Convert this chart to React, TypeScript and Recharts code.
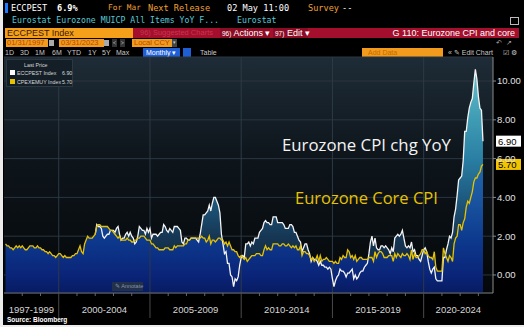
import React from "react";
import { ComposedChart, Area, Line, XAxis, YAxis, CartesianGrid, ReferenceLine } from "recharts";

// monthly, end of month, starting Jan 1997
const FIRST_YEAR = 1997;

// CPEXEMUY Index (core, YoY %), Jan 1997 - Mar 2023
const core = [
  1.6, 1.5, 1.5, 1.4, 1.4, 1.3, 1.4, 1.5, 1.4, 1.5, 1.4, 1.5, // 1997
  1.4, 1.3, 1.3, 1.4, 1.5, 1.5, 1.5, 1.4, 1.4, 1.5, 1.4, 1.4, // 1998
  1.3, 1.3, 1.2, 1.2, 1.1, 1.2, 1.1, 1.0, 1.0, 0.9, 1.0, 1.1, // 1999
  1.1, 1.0, 0.9, 1.0, 0.9, 0.9, 0.9, 0.9, 1.0, 1.0, 1.1, 1.1, // 2000
  1.3, 1.5, 1.2, 1.1, 1.6, 1.8, 2.0, 1.9, 1.9, 1.9, 2.0, 2.1, // 2001
  2.5, 2.6, 2.6, 2.5, 2.5, 2.5, 2.5, 2.5, 2.4, 2.3, 2.3, 2.2, // 2002
  2.1, 2.0, 1.9, 2.0, 1.8, 1.8, 1.8, 1.8, 1.9, 1.8, 1.8, 1.7, // 2003
  1.7, 1.8, 1.8, 1.9, 1.9, 2.0, 2.0, 2.0, 1.9, 1.8, 1.8, 1.8, // 2004
  1.6, 1.6, 1.5, 1.4, 1.4, 1.3, 1.3, 1.3, 1.3, 1.4, 1.4, 1.4, // 2005
  1.3, 1.3, 1.3, 1.5, 1.4, 1.5, 1.5, 1.5, 1.5, 1.5, 1.6, 1.6, // 2006
  1.8, 1.8, 1.9, 1.9, 1.9, 1.9, 1.9, 1.9, 1.9, 2.0, 1.9, 1.9, // 2007
  1.7, 1.8, 2.0, 1.6, 1.8, 1.8, 1.7, 1.8, 1.9, 1.9, 1.8, 1.8, // 2008
  1.6, 1.7, 1.5, 1.7, 1.5, 1.3, 1.3, 1.2, 1.2, 1.0, 0.9, 1.0, // 2009
  0.9, 0.8, 0.9, 0.7, 0.8, 0.9, 1.0, 1.0, 1.0, 1.1, 1.1, 1.1, // 2010
  1.0, 1.0, 1.3, 1.5, 1.3, 1.4, 1.3, 1.3, 1.6, 1.6, 1.6, 1.6, // 2011
  1.5, 1.5, 1.6, 1.6, 1.5, 1.5, 1.6, 1.5, 1.4, 1.5, 1.4, 1.5, // 2012
  1.3, 1.3, 1.5, 1.0, 1.2, 1.2, 1.1, 1.1, 1.0, 0.8, 0.9, 0.7, // 2013
  0.8, 1.0, 0.7, 1.0, 0.7, 0.8, 0.8, 0.9, 0.8, 0.7, 0.7, 0.7, // 2014
  0.6, 0.7, 0.6, 0.6, 0.9, 0.8, 1.0, 0.9, 0.9, 1.3, 1.2, 0.9, // 2015
  1.0, 0.8, 1.0, 0.7, 0.8, 0.9, 0.9, 0.8, 0.8, 0.8, 0.8, 0.9, // 2016
  0.9, 0.9, 0.7, 1.2, 0.9, 1.1, 1.2, 1.2, 1.1, 0.9, 0.9, 0.9, // 2017
  1.0, 1.0, 1.0, 0.7, 1.1, 0.9, 1.1, 1.0, 0.9, 1.1, 1.0, 1.0, // 2018
  1.1, 1.0, 0.8, 1.3, 0.8, 1.1, 0.9, 0.9, 1.0, 1.1, 1.3, 1.3, // 2019
  1.1, 1.2, 1.0, 0.9, 0.9, 0.8, 1.2, 0.4, 0.2, 0.2, 0.2, 0.2, // 2020
  1.4, 1.1, 0.9, 0.7, 1.0, 0.9, 0.7, 1.6, 1.9, 2.0, 2.6, 2.6, // 2021
  2.3, 2.7, 2.9, 3.5, 3.8, 3.7, 4.0, 4.3, 4.8, 5.0, 5.0, 5.2, // 2022
  5.3, 5.6, 5.7, // 2023
];

// ECCPEST Index (headline, YoY %), Dec 2001 - Mar 2023
const headlineStart = 59;
const headline = [
  2.1, // Dec 2001
  2.6, 2.5, 2.5, 2.4, 2.0, 1.9, 2.0, 2.1, 2.1, 2.3, 2.3, 2.3, // 2002
  2.2, 2.4, 2.5, 2.1, 1.8, 1.9, 1.9, 2.1, 2.2, 2.0, 2.2, 2.0, // 2003
  1.9, 1.6, 1.7, 2.0, 2.5, 2.4, 2.3, 2.3, 2.1, 2.4, 2.2, 2.4, // 2004
  1.9, 2.1, 2.1, 2.1, 2.0, 2.1, 2.2, 2.2, 2.6, 2.5, 2.3, 2.2, // 2005
  2.4, 2.3, 2.2, 2.5, 2.5, 2.5, 2.4, 2.3, 1.7, 1.6, 1.9, 1.9, // 2006
  1.8, 1.8, 1.9, 1.9, 1.9, 1.9, 1.8, 1.7, 2.1, 2.6, 3.1, 3.1, // 2007
  3.2, 3.3, 3.6, 3.3, 3.7, 4.0, 4.0, 3.8, 3.6, 3.2, 2.1, 1.6, // 2008
  1.1, 1.2, 0.6, 0.6, 0.0, -0.1, -0.6, -0.2, -0.3, -0.1, 0.5, 0.9, // 2009
  1.0, 0.9, 1.6, 1.6, 1.7, 1.5, 1.7, 1.6, 1.9, 1.9, 1.9, 2.2, // 2010
  2.3, 2.4, 2.7, 2.8, 2.7, 2.7, 2.6, 2.6, 3.0, 3.0, 3.0, 2.7, // 2011
  2.7, 2.7, 2.7, 2.6, 2.4, 2.4, 2.4, 2.6, 2.6, 2.5, 2.2, 2.2, // 2012
  2.0, 1.8, 1.7, 1.2, 1.4, 1.6, 1.6, 1.3, 1.1, 0.7, 0.9, 0.8, // 2013
  0.8, 0.7, 0.5, 0.7, 0.5, 0.5, 0.4, 0.4, 0.3, 0.4, 0.3, -0.2, // 2014
  -0.6, -0.3, -0.1, 0.0, 0.3, 0.2, 0.2, 0.1, -0.1, 0.1, 0.1, 0.2, // 2015
  0.3, -0.2, 0.0, -0.2, -0.1, 0.1, 0.2, 0.2, 0.4, 0.5, 0.6, 1.1, // 2016
  1.7, 2.0, 1.5, 1.9, 1.4, 1.3, 1.3, 1.5, 1.5, 1.4, 1.5, 1.4, // 2017
  1.3, 1.1, 1.4, 1.2, 1.9, 2.0, 2.1, 2.0, 2.1, 2.3, 1.9, 1.5, // 2018
  1.4, 1.5, 1.4, 1.7, 1.2, 1.3, 1.0, 1.0, 0.8, 0.7, 1.0, 1.3, // 2019
  1.4, 1.2, 0.7, 0.3, 0.1, 0.3, 0.4, -0.2, -0.3, -0.3, -0.3, -0.3, // 2020
  0.9, 0.9, 1.3, 1.6, 2.0, 1.9, 2.2, 3.0, 3.4, 4.1, 4.9, 5.0, // 2021
  5.1, 5.9, 7.4, 7.4, 8.1, 8.6, 8.9, 9.1, 9.9, 10.6, 10.1, 9.2, // 2022
  8.6, 8.5, 6.9, // 2023
];

const bandLabels = ["1997-1999", "2000-2004", "2005-2009", "2010-2014", "2015-2019", "2020-2024"];
const bandCenters = [1998.5, 2002.5, 2007.5, 2012.5, 2017.5, 2021.9];
const bandEdges = [2000, 2005, 2010, 2015, 2020];
const minorYears = [1998, 1999, 2001, 2002, 2003, 2004, 2006, 2007, 2008, 2009, 2011, 2012, 2013, 2014, 2016, 2017, 2018, 2019, 2021, 2022, 2023];
const yTicks = [0, 2, 4, 6, 8, 10];

const data = core.map((c, i) => ({
  t: FIRST_YEAR + (i + 1) / 12,
  core: c,
  headline: i >= headlineStart ? headline[i - headlineStart] : null,
}));

const lastHeadline = headline[headline.length - 1];
const lastCore = core[core.length - 1];

const X_DOMAIN: [number, number] = [1997, 2023.8];
const Y_MIN = -0.93;
const Y_MAX = 11.24;
const PLOT_TOP = 9;
const PLOT_H = 236;
const ySvg = (v: number) => PLOT_TOP + ((Y_MAX - v) / (Y_MAX - Y_MIN)) * PLOT_H;

const mono = '"DejaVu Sans Mono", monospace';
const sans = '"Liberation Sans", Arial, sans-serif';
const amber = "#f0a030";

const XTick = (props: any) => {
  const { x, y, payload } = props;
  const v = payload.value;
  if (bandEdges.includes(v)) {
    return <line x1={x} x2={x} y1={y} y2={y + 25} stroke="#4a4a4a" />;
  }
  const idx = bandCenters.indexOf(v);
  if (idx >= 0) {
    return (
      <text x={x} y={y + 20} textAnchor="middle" fill="#d6d6d6" fontSize={9.5} fontFamily={sans}>
        {bandLabels[idx]}
      </text>
    );
  }
  return <line x1={x} x2={x} y1={y} y2={y + 3} stroke="#666" />;
};

const tag = (value: number, bg: string) => (props: any) => {
  const vb = props.viewBox || {};
  const x = vb.x + vb.width + 3;
  const y = vb.y;
  return (
    <g>
      <rect x={x} y={y - 5.5} width={25} height={11} fill={bg} />
      <text x={x + 2} y={y + 3.5} fill="#000" fontSize={9.5} fontFamily={sans}>
        {value.toFixed(2)}
      </text>
    </g>
  );
};

const abs = (style: React.CSSProperties): React.CSSProperties => ({ position: "absolute", whiteSpace: "nowrap", ...style });
const row1 = (left: number, color: string, bold = false, size = 8.6): React.CSSProperties =>
  abs({ left, top: 2, fontFamily: mono, fontSize: size, lineHeight: "12px", color, fontWeight: bold ? "bold" : "normal" });

export default function App() {
  return (
    <div style={abs({ left: 0, top: 0, width: 524, height: 327, background: "#ececec", overflow: "hidden" })}>
      <div style={abs({ left: 3, top: 0, width: 521, height: 325, background: "#000" })} />

      {/* row 1 */}
      <div style={abs({ left: 5, top: 3, width: 3, height: 10, background: "#1e7bff" })} />
      <div style={row1(11, "#fff")}>ECCPEST</div>
      <div style={row1(57, "#fff", true)}>6.9%</div>
      <div style={row1(108, amber, false, 7.8)}>For Mar</div>
      <div style={row1(148, amber)}>Next Release</div>
      <div style={row1(227, "#fff")}>02 May 11:00</div>
      <div style={row1(308, amber)}>Survey</div>
      <div style={row1(342, "#fff")}>--</div>

      {/* row 2 */}
      <div style={abs({ left: 12, top: 15, fontFamily: mono, fontSize: 8.2, lineHeight: "11px", color: "#56c8d8" })}>
        Eurostat Eurozone MUICP All Items YoY F...
      </div>
      <div style={abs({ left: 237, top: 15, fontFamily: mono, fontSize: 8.2, lineHeight: "11px", color: "#56c8d8" })}>Eurostat</div>
      <div style={abs({ left: 510, top: 17, width: 7, height: 6, border: "1px solid #bbb" })} />

      {/* row 3 */}
      <div style={abs({ left: 5, top: 28, width: 128, height: 10, background: "#f5a01a" })} />
      <div style={abs({ left: 7, top: 28, fontFamily: sans, fontSize: 9, lineHeight: "10px", color: "#3a1800" })}>ECCPEST Index</div>
      <div style={abs({ left: 133, top: 28, width: 386, height: 10, background: "#a30f2c" })} />
      <div style={abs({ left: 140, top: 28, fontFamily: sans, fontSize: 7.5, lineHeight: "10px", color: "#c8384e" })}>96) Suggested Charts</div>
      <div style={abs({ left: 220, top: 28, width: 50, height: 10, background: "#8c0c25" })} />
      <div style={abs({ left: 222, top: 28, fontFamily: sans, fontSize: 9, lineHeight: "10px", color: "#fff" })}>
        <span style={{ fontSize: 6.5 }}>96)</span> Actions ▾
      </div>
      <div style={abs({ left: 273, top: 28, width: 35, height: 10, background: "#8c0c25" })} />
      <div style={abs({ left: 275, top: 28, fontFamily: sans, fontSize: 9, lineHeight: "10px", color: "#fff" })}>
        <span style={{ fontSize: 6.5 }}>97)</span> Edit ▾
      </div>
      <div style={abs({ right: 9, top: 28, fontFamily: sans, fontSize: 9, lineHeight: "10px", color: "#fff" })}>
        G 110: Eurozone CPI and core
      </div>

      {/* row 4 */}
      <div style={abs({ left: 6, top: 39, width: 41, height: 8, background: "#f29b1d", fontFamily: sans, fontSize: 7.5, lineHeight: "8px", color: "#b84800", paddingLeft: 1 })}>01/31/1997</div>
      <div style={abs({ left: 49, top: 40, width: 5, height: 6, background: "#aaa" })} />
      <div style={abs({ left: 59, top: 39, width: 43, height: 8, background: "#f29b1d", fontFamily: sans, fontSize: 7.5, lineHeight: "8px", color: "#b84800", paddingLeft: 2 })}>03/31/2023</div>
      <div style={abs({ left: 104, top: 40, width: 5, height: 6, background: "#aaa" })} />
      <div style={abs({ left: 112, top: 39, width: 5, height: 8, background: "#333", color: "#ccc", fontSize: 6, lineHeight: "8px", textAlign: "center" })}>&lt;</div>
      <div style={abs({ left: 120, top: 39, width: 5, height: 8, background: "#333", color: "#ccc", fontSize: 6, lineHeight: "8px", textAlign: "center" })}>&gt;</div>
      <div style={abs({ left: 132, top: 39, width: 38, height: 8, background: "#f29b1d", fontFamily: sans, fontSize: 7.5, lineHeight: "8px", color: "#b84800", paddingLeft: 2 })}>Local CCY</div>
      <div style={abs({ left: 172, top: 39, width: 5, height: 8, background: "#444", color: "#ccc", fontSize: 5, lineHeight: "8px", textAlign: "center" })}>▾</div>
      <div style={abs({ left: 496, top: 38, fontFamily: sans, fontSize: 7, lineHeight: "9px", color: "#aaa" })}>↶ &nbsp;↗</div>

      {/* row 5 */}
      {[["1D", 5], ["3D", 20], ["1M", 35], ["6M", 52], ["YTD", 67], ["1Y", 88], ["5Y", 102], ["Max", 116]].map(([s, x]) => (
        <div key={s as string} style={abs({ left: x as number, top: 48, fontFamily: sans, fontSize: 7, lineHeight: "9px", color: "#c8c8c8" })}>{s}</div>
      ))}
      <div style={abs({ left: 143, top: 48, width: 37, height: 9, background: "#1f5fd6", fontFamily: sans, fontSize: 7, lineHeight: "9px", color: "#fff", paddingLeft: 3, boxSizing: "border-box" })}>Monthly ▾</div>
      <div style={abs({ left: 183, top: 48, width: 8, height: 9, background: "#1f5fd6" })} />
      <div style={abs({ left: 200, top: 48, fontFamily: sans, fontSize: 7, lineHeight: "9px", color: "#c8c8c8" })}>Table</div>
      <div style={abs({ left: 362, top: 48, width: 81, height: 9, background: "#f29b1d", fontFamily: sans, fontSize: 7, lineHeight: "9px", color: "#c86a00", paddingLeft: 6, boxSizing: "border-box" })}>Add Data</div>
      <div style={abs({ left: 448, top: 48, fontFamily: sans, fontSize: 7, lineHeight: "9px", color: "#c8c8c8" })}>« ✎ Edit Chart</div>
      <div style={abs({ left: 503, top: 48, fontFamily: sans, fontSize: 7, lineHeight: "9px", color: "#c8c8c8" })}>☑ ⚙</div>

      <div style={abs({ left: 0, top: 48 })}>
        <ComposedChart width={524} height={276} data={data} margin={{ top: PLOT_TOP, right: 0, bottom: 0, left: 4 }}>
          <defs>
            <linearGradient id="plotBg" x1="0" y1="0" x2="0" y2="1">
              <stop offset="0" stopColor="#1e2c37" />
              <stop offset="0.45" stopColor="#0d141a" />
              <stop offset="1" stopColor="#05080a" />
            </linearGradient>
            <linearGradient id="hlFill" gradientUnits="userSpaceOnUse" x1="0" x2="0" y1={ySvg(10)} y2={ySvg(0)}>
              <stop offset="0" stopColor="#5cb8c6" />
              <stop offset="0.2" stopColor="#3f9bb3" />
              <stop offset="0.4" stopColor="#2a7fa4" />
              <stop offset="0.6" stopColor="#1e5a80" />
              <stop offset="0.8" stopColor="#163754" />
              <stop offset="1" stopColor="#0f2440" />
            </linearGradient>
            <linearGradient id="coreFill" gradientUnits="userSpaceOnUse" x1="0" x2="0" y1={ySvg(6)} y2={ySvg(Y_MIN)}>
              <stop offset="0" stopColor="#1f6aae" />
              <stop offset="0.3" stopColor="#1a55a0" />
              <stop offset="0.6" stopColor="#0d3a8e" />
              <stop offset="0.87" stopColor="#0a2478" />
              <stop offset="1" stopColor="#081b62" />
            </linearGradient>
          </defs>
          <CartesianGrid vertical={false} stroke="#2b3640" fill="url(#plotBg)" />
          {bandEdges.map((e) => (
            <ReferenceLine key={e} x={e} stroke="#2e3a44" />
          ))}
          <XAxis
            type="number"
            dataKey="t"
            domain={X_DOMAIN}
            allowDataOverflow
            ticks={[...bandCenters, ...bandEdges, ...minorYears]}
            interval={0}
            tickLine={false}
            tickSize={0}
            tickMargin={0}
            tick={<XTick />}
            axisLine={{ stroke: "#6a6a6a" }}
            height={31}
          />
          <YAxis
            orientation="right"
            type="number"
            domain={[Y_MIN, Y_MAX]}
            allowDataOverflow
            ticks={yTicks}
            tickFormatter={(v: number) => v.toFixed(2)}
            tick={{ fill: "#e0e0e0", fontSize: 9.5, fontFamily: sans }}
            tickSize={3}
            tickMargin={1}
            axisLine={{ stroke: "#8a8a8a" }}
            tickLine={{ stroke: "#8a8a8a" }}
            width={31}
          />
          <Area dataKey="headline" type="linear" stroke="none" fill="url(#hlFill)" fillOpacity={1} baseValue="dataMin" isAnimationActive={false} />
          <Area dataKey="core" type="linear" stroke="none" fill="url(#coreFill)" fillOpacity={1} baseValue="dataMin" isAnimationActive={false} />
          <Line dataKey="headline" type="linear" stroke="#f4f4f4" strokeWidth={1.3} dot={false} isAnimationActive={false} />
          <Line dataKey="core" type="linear" stroke="#e6c200" strokeWidth={1.3} dot={false} isAnimationActive={false} />
          <ReferenceLine y={lastHeadline} stroke="none" label={tag(lastHeadline, "#ffffff")} />
          <ReferenceLine y={lastCore} stroke="none" label={tag(lastCore, "#f2c500")} />
        </ComposedChart>
      </div>

      {/* legend */}
      <div style={abs({ left: 6, top: 59, width: 67, height: 28, background: "#141e27", border: "1px solid #2a3844", boxSizing: "border-box", fontFamily: sans, fontSize: 5.3, lineHeight: "8px", color: "#d8d8d8" })}>
        <div style={abs({ left: 17, top: 1 })}>Last Price</div>
        <div style={abs({ left: 3, top: 10, width: 5, height: 5, background: "#fff" })} />
        <div style={abs({ left: 10, top: 9 })}>ECCPEST Index</div>
        <div style={abs({ left: 55, top: 9 })}>{lastHeadline.toFixed(2)}</div>
        <div style={abs({ left: 3, top: 19, width: 5, height: 5, background: "#e6c200" })} />
        <div style={abs({ left: 10, top: 18 })}>CPEXEMUY Index</div>
        <div style={abs({ left: 55, top: 18 })}>{lastCore.toFixed(2)}</div>
      </div>

      {/* annotations */}
      <div style={abs({ left: 282, top: 135, fontFamily: '"Open Sans", sans-serif', fontSize: 16.8, lineHeight: "20px", color: "#f4f4f4" })}>Eurozone CPI chg YoY</div>
      <div style={abs({ left: 295, top: 188, fontFamily: '"Open Sans", sans-serif', fontSize: 16.5, lineHeight: "20px", color: "#e6c200" })}>Eurozone Core CPI</div>

      <div style={abs({ left: 112, top: 282, width: 31, height: 9, background: "#22304a", fontFamily: sans, fontSize: 5.5, lineHeight: "9px", color: "#8a94a8", paddingLeft: 3, boxSizing: "border-box" })}>✎ Annotate</div>

      <div style={abs({ left: 7, top: 316, fontFamily: sans, fontSize: 6.5, lineHeight: "8px", color: "#fff", fontWeight: "bold" })}>Source: Bloomberg</div>
    </div>
  );
}
